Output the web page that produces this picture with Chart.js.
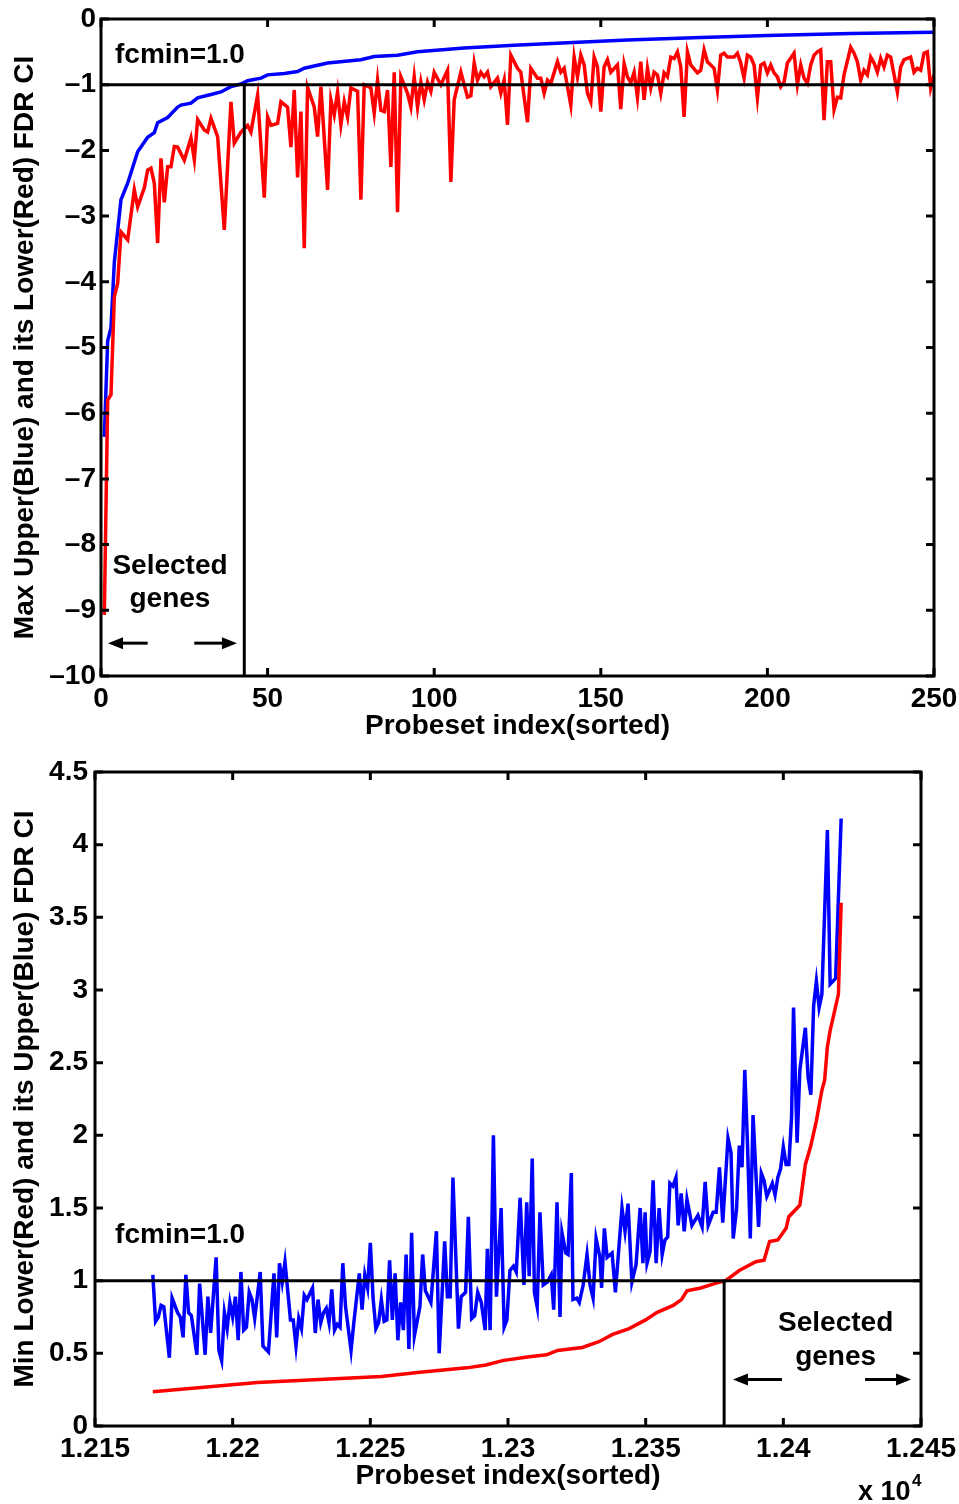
<!DOCTYPE html>
<html>
<head>
<meta charset="utf-8">
<script src="https://cdn.jsdelivr.net/npm/chart.js@4/dist/chart.umd.min.js"></script>
<style>
body{margin:0;background:#fff;}
#wrap{position:relative;width:959px;height:1504px;}
canvas{position:absolute;left:0;}
#topChart{top:0;}
#bottomChart{top:750px;}
</style>
</head>
<body>
<div id="wrap">
<canvas id="topChart" width="959" height="745"></canvas>
<canvas id="bottomChart" width="959" height="754"></canvas>
</div>
<script>
// top panel: max upper (blue) and its lower (red), points are [index, value]
let topBlue=[[1,-6.36],[2,-4.9],[3,-4.7],[4,-3.7],[6,-2.75],[8,-2.5],[11,-2.02],[14,-1.8],[16,-1.73],[17,-1.58],[20,-1.5],[23,-1.34],[24,-1.31],[27,-1.28],[29,-1.2],[33,-1.15],[36,-1.11],[39,-1.03],[42,-0.99],[44,-0.94],[48,-0.9],[50,-0.85],[55,-0.83],[59,-0.8],[61,-0.75],[68,-0.67],[78,-0.62],[82,-0.57],[89,-0.55],[95,-0.5],[109,-0.44],[124,-0.4],[140,-0.36],[158,-0.32],[180,-0.28],[200,-0.25],[225,-0.22],[250,-0.2]];

let topRed=[[1,-9.07],[2,-5.8],[3,-5.72],[4,-4.23],[5,-4.02],[6,-3.24],[8,-3.36],[10,-2.6],[11,-2.86],[13,-2.57],[14,-2.3],[15,-2.27],[16,-2.5],[17,-3.41],[18,-2.12],[19,-2.79],[20,-2.25],[21,-2.25],[22,-1.94],[23,-1.95],[25,-2.15],[27,-1.81],[28,-2.14],[29,-1.53],[31,-1.69],[32,-1.72],[33,-1.51],[35,-1.79],[37,-3.21],[39,-1.26],[40,-1.89],[42,-1.72],[44,-1.62],[45,-1.72],[47,-1.16],[49,-2.72],[50,-1.49],[51,-1.62],[53,-1.59],[54,-1.26],[56,-1.34],[57,-1.95],[58,-1.08],[59,-2.41],[60,-1.41],[61,-3.49],[62,-1.04],[64,-1.34],[65,-1.79],[66,-1.03],[68,-2.6],[69,-1.23],[70,-1.46],[71,-1.11],[72,-1.61],[73,-1.26],[74,-1.49],[75,-1.05],[77,-1.1],[78,-2.75],[79,-1.0],[81,-1.05],[82,-1.43],[83,-0.93],[84,-1.39],[85,-1.41],[86,-1.08],[87,-2.25],[88,-0.81],[89,-2.94],[90,-0.88],[92,-1.13],[93,-1.34],[94,-0.88],[95,-1.34],[96,-0.96],[97,-1.23],[98,-0.96],[99,-1.1],[100,-0.81],[102,-1.0],[104,-0.78],[105,-2.48],[106,-1.23],[108,-0.81],[110,-1.19],[111,-1.17],[112,-0.67],[113,-0.93],[114,-0.81],[115,-0.88],[116,-0.81],[117,-1.03],[119,-0.9],[120,-1.13],[121,-0.93],[122,-1.61],[123,-0.55],[125,-0.75],[126,-0.81],[128,-1.57],[129,-0.75],[131,-0.9],[132,-0.9],[133,-1.13],[134,-0.93],[135,-0.98],[137,-0.65],[138,-0.81],[139,-0.75],[141,-1.31],[142,-0.58],[143,-0.88],[144,-0.55],[145,-0.7],[146,-1.13],[147,-1.26],[148,-0.58],[149,-0.73],[150,-1.41],[151,-0.73],[152,-0.62],[153,-0.81],[155,-0.7],[156,-1.37],[157,-0.68],[158,-0.88],[159,-0.97],[160,-0.81],[161,-1.19],[162,-0.65],[163,-1.23],[164,-0.75],[165,-1.05],[166,-0.81],[167,-0.85],[168,-1.13],[169,-0.82],[170,-0.88],[171,-0.58],[172,-0.6],[173,-0.5],[174,-0.73],[175,-1.49],[176,-0.5],[177,-0.7],[179,-0.82],[180,-0.78],[181,-0.47],[182,-0.65],[184,-0.75],[185,-1.08],[186,-0.55],[187,-0.52],[188,-0.58],[190,-0.58],[191,-0.52],[192,-0.67],[193,-0.9],[194,-0.55],[195,-0.58],[196,-0.7],[197,-1.2],[198,-0.7],[199,-0.67],[200,-0.82],[201,-0.7],[202,-0.82],[203,-0.88],[204,-1.03],[205,-0.96],[206,-0.67],[208,-0.52],[209,-1.0],[210,-0.7],[211,-0.9],[212,-0.98],[213,-0.7],[214,-0.55],[215,-0.5],[216,-0.47],[217,-1.54],[218,-0.65],[219,-0.65],[220,-1.38],[221,-1.19],[222,-1.2],[223,-0.85],[225,-0.43],[226,-0.52],[227,-0.65],[228,-0.93],[229,-0.78],[230,-0.85],[231,-0.58],[232,-0.67],[233,-0.81],[234,-0.6],[235,-0.73],[236,-0.55],[237,-0.58],[239,-1.11],[240,-0.73],[241,-0.62],[243,-0.58],[244,-0.81],[245,-0.75],[246,-0.78],[247,-0.52],[248,-0.5],[249,-1.05],[250,-0.85]];

let topThreshold=-1;
let topCutoff=43;
let topXRange=[0,250];
let topYRange=[-10,0];

// bottom panel: min lower (red) and its upper (blue)
let bottomBlue=[[12171,1.04],[12172,0.72],[12173,0.75],[12174,0.83],[12175,0.82],[12177,0.47],[12178,0.88],[12180,0.78],[12181,0.75],[12182,0.61],[12183,1.04],[12184,0.78],[12185,0.76],[12187,0.49],[12188,0.98],[12190,0.49],[12191,0.89],[12192,0.64],[12194,1.16],[12195,0.52],[12196,0.45],[12197,0.78],[12198,0.67],[12199,0.85],[12200,0.75],[12201,0.89],[12202,0.59],[12203,1.06],[12204,0.66],[12205,0.68],[12206,0.92],[12207,0.87],[12208,0.74],[12210,1.06],[12211,0.55],[12213,0.51],[12215,1.05],[12216,0.61],[12217,1.12],[12218,0.99],[12219,1.13],[12221,0.73],[12222,0.73],[12223,0.55],[12224,0.74],[12225,0.67],[12226,0.9],[12227,0.87],[12229,0.95],[12230,0.64],[12231,0.87],[12232,0.71],[12233,0.78],[12234,0.81],[12235,0.71],[12236,0.94],[12237,0.66],[12238,0.7],[12239,0.68],[12240,1.12],[12241,0.82],[12243,0.52],[12244,0.71],[12246,1.05],[12247,0.8],[12248,1.04],[12249,0.95],[12250,1.26],[12251,0.88],[12252,0.67],[12253,0.71],[12254,0.87],[12255,0.72],[12256,0.73],[12257,1.14],[12258,0.73],[12259,1.05],[12260,0.59],[12261,0.85],[12262,0.66],[12263,1.18],[12264,0.53],[12265,1.33],[12266,0.62],[12268,0.82],[12269,1.18],[12270,0.93],[12272,0.85],[12274,1.34],[12275,0.5],[12277,1.27],[12278,0.89],[12279,0.89],[12280,1.71],[12282,0.67],[12283,0.89],[12284.6,0.92],[12285.6,1.44],[12286.8,0.74],[12287.9,0.76],[12289,0.92],[12290.3,0.85],[12291.7,0.66],[12292.5,1.22],[12293.5,0.66],[12294.7,2.0],[12295.8,0.89],[12297.5,1.5],[12298.6,0.68],[12299.6,0.73],[12300.7,1.07],[12302,1.1],[12303,1.06],[12304.4,1.57],[12305.8,0.97],[12306.8,1.54],[12307.7,1.03],[12308.8,1.84],[12309.6,0.92],[12310.6,0.82],[12311.6,1.47],[12312.8,0.97],[12314.3,0.99],[12315.7,1.04],[12316.6,0.8],[12317.8,1.54],[12318.9,0.75],[12319.6,1.33],[12321,1.19],[12321.8,1.18],[12323,1.74],[12323.6,0.87],[12325,0.88],[12325.9,0.85],[12327.3,0.97],[12328.7,1.18],[12329.8,0.97],[12330.9,0.88],[12332,1.29],[12333.4,1.16],[12334,0.95],[12335,1.36],[12336,1.16],[12337.8,1.19],[12339,0.92],[12340,1.16],[12341.4,1.5],[12342.5,1.34],[12343.6,1.53],[12345,0.99],[12346.5,1.11],[12348,1.5],[12349,1.12],[12349.8,1.47],[12350.5,1.12],[12351.6,1.2],[12352.7,1.69],[12353.8,1.12],[12354.9,1.5],[12356,1.18],[12357,1.28],[12358,1.3],[12358.8,1.67],[12359.9,1.65],[12361,1.71],[12361.8,1.38],[12362.9,1.6],[12364,1.34],[12365,1.56],[12366.8,1.38],[12369,1.45],[12370.5,1.37],[12371.6,1.68],[12372.7,1.38],[12374.5,1.47],[12375.6,1.47],[12376.8,1.78],[12378,1.4],[12379.9,1.98],[12381,1.88],[12381.8,1.29],[12383,1.49],[12384,1.93],[12385,1.78],[12386,2.45],[12387,1.93],[12388,1.29],[12389,2.14],[12391,1.37],[12392,1.74],[12393,1.69],[12394,1.58],[12396,1.67],[12397,1.59],[12398,1.71],[12399,1.77],[12400,1.92],[12401,1.8],[12402,1.8],[12403,2.13],[12403.7,2.88],[12405,1.95],[12406,2.45],[12408,2.74],[12409,2.4],[12410,2.28],[12411,2.89],[12412,3.06],[12413,2.88],[12414,2.97],[12416,4.1],[12417,3.04],[12419,3.08],[12421,4.18]];

let bottomRed=[[12171,0.236],[12209,0.3],[12254,0.34],[12268,0.37],[12285,0.4],[12292,0.42],[12298,0.45],[12307,0.475],[12314,0.49],[12318,0.52],[12327,0.54],[12333,0.58],[12338,0.63],[12344,0.67],[12350,0.73],[12354,0.78],[12360,0.83],[12363,0.87],[12365,0.93],[12370,0.95],[12375,0.98],[12379,1.0],[12384,1.07],[12390,1.13],[12393,1.14],[12395,1.27],[12398,1.28],[12401,1.36],[12402,1.44],[12406,1.52],[12408,1.8],[12410,1.93],[12412,2.1],[12414,2.31],[12415,2.38],[12416,2.61],[12417,2.72],[12420,2.97],[12421,3.6]];

let bottomThreshold=1;
let bottomCutoff=12378.5;
let bottomXRange=[12150,12450];
let bottomYRange=[0,4.5];

const FONT="'Liberation Sans', Arial, Helvetica, sans-serif";
const BIG={family:FONT,size:28,weight:"bold"};

function pts(arr){
return arr.map(p=>({x:p[0],y:p[1]}));
}

function lineSet(data,color,w){
return {data,borderColor:color,borderWidth:w,pointRadius:0,tension:0,fill:false};
}

// matlab style box with inward ticks + text annotations
function boxPlugin(notes){
return {
id:"box",
afterDraw(chart){
let {ctx,chartArea:a,scales:{x,y}}=chart;
ctx.save();
ctx.strokeStyle="#000";
ctx.lineWidth=3;
ctx.beginPath();
x.ticks.forEach(t=>{
let px=x.getPixelForValue(t.value);
ctx.moveTo(px,a.bottom);ctx.lineTo(px,a.bottom-8);
ctx.moveTo(px,a.top);ctx.lineTo(px,a.top+8);
});
y.ticks.forEach(t=>{
let py=y.getPixelForValue(t.value);
ctx.moveTo(a.left,py);ctx.lineTo(a.left+8,py);
ctx.moveTo(a.right,py);ctx.lineTo(a.right-8,py);
});
ctx.stroke();
ctx.strokeRect(a.left,a.top,a.right-a.left,a.bottom-a.top);

ctx.fillStyle="#000";
ctx.font="bold 28px "+FONT;
ctx.textBaseline="middle";
notes.texts.forEach(n=>{
ctx.textAlign=n.align;
ctx.fillText(n.text,x.getPixelForValue(n.x),y.getPixelForValue(n.y));
});
notes.arrows.forEach(ar=>{
let x0=x.getPixelForValue(ar.from),x1=x.getPixelForValue(ar.to),py=y.getPixelForValue(ar.y);
let dir=x1>x0?1:-1;
ctx.lineWidth=3;
ctx.beginPath();ctx.moveTo(x0,py);ctx.lineTo(x1-dir*12,py);ctx.stroke();
ctx.beginPath();ctx.moveTo(x1,py);ctx.lineTo(x1-dir*15,py-6);ctx.lineTo(x1-dir*15,py+6);ctx.closePath();ctx.fill();
});
if(notes.exponent){
ctx.textAlign="left";
ctx.textBaseline="alphabetic";
ctx.font="bold 27px "+FONT;
ctx.fillText("x 10",a.right-63,a.bottom+74);
ctx.font="bold 17px "+FONT;
ctx.fillText("4",a.right-9,a.bottom+60);
}
ctx.restore();
}
};
}

function makeChart(id,cfg){
return new Chart(document.getElementById(id),{
type:"line",
data:{datasets:[
lineSet([{x:cfg.xr[0],y:cfg.thr},{x:cfg.xr[1],y:cfg.thr}],"#000",3),
lineSet([{x:cfg.cut,y:cfg.thr},{x:cfg.cut,y:cfg.cutEnd}],"#000",3),
lineSet(pts(cfg.red),"#ff0000",3.5),
lineSet(pts(cfg.blue),"#0000ff",3.5)
]},
options:{
responsive:false,
animation:false,
devicePixelRatio:1,
layout:{padding:cfg.pad},
plugins:{legend:{display:false},tooltip:{enabled:false}},
scales:{
x:{
type:"linear",min:cfg.xr[0],max:cfg.xr[1],
grid:{display:false,drawTicks:false},
border:{display:false},
ticks:{stepSize:50,font:BIG,color:"#000",padding:cfg.xPad,maxRotation:0,callback:cfg.xFmt},
title:{display:true,text:"Probeset index(sorted)",font:BIG,color:"#000",padding:{top:0,bottom:cfg.xTitlePad}},
afterFit(s){s.height=cfg.xH;s.paddingLeft=0;s.paddingRight=0;}
},
y:{
type:"linear",min:cfg.yr[0],max:cfg.yr[1],
grid:{display:false,drawTicks:false},
border:{display:false},
ticks:{stepSize:cfg.yStep,font:BIG,color:"#000",padding:cfg.yPad,callback:v=>String(v).replace("-","\u2013")},
title:{display:true,text:cfg.yTitle,font:BIG,color:"#000",padding:{top:8,bottom:0}},
afterFit(s){s.width=cfg.yW;s.paddingTop=0;s.paddingBottom=0;}
}
}
},
plugins:[boxPlugin(cfg.notes)]
});
}

makeChart("topChart",{
xr:topXRange,yr:topYRange,thr:topThreshold,cut:topCutoff,cutEnd:topYRange[0],
red:topRed,blue:topBlue,
pad:{left:0,right:25,top:19,bottom:0},
xH:69,yW:101,xPad:6,yPad:5,xTitlePad:2,yStep:1,
xFmt:v=>String(v),
yTitle:"Max Upper(Blue) and its Lower(Red) FDR CI",
notes:{
texts:[
{text:"fcmin=1.0",x:4.2,y:-0.55,align:"left"},
{text:"Selected",x:20.7,y:-8.33,align:"center"},
{text:"genes",x:20.7,y:-8.83,align:"center"}
],
arrows:[{from:14,to:2.1,y:-9.5},{from:28,to:40.8,y:-9.5}]
}
});

makeChart("bottomChart",{
xr:bottomXRange,yr:bottomYRange,thr:bottomThreshold,cut:bottomCutoff,cutEnd:bottomYRange[0],
red:bottomRed,blue:bottomBlue,
pad:{left:0,right:38,top:22,bottom:0},
xH:78,yW:95,xPad:6,yPad:7,xTitlePad:11,yStep:0.5,
xFmt:v=>String(Number((v/10000).toFixed(4))),
yTitle:"Min Lower(Red) and its Upper(Blue) FDR CI",
notes:{
texts:[
{text:"fcmin=1.0",x:12157.3,y:1.31,align:"left"},
{text:"Selected",x:12419,y:0.71,align:"center"},
{text:"genes",x:12419,y:0.475,align:"center"}
],
arrows:[{from:12399.5,to:12381.7,y:0.32},{from:12429.7,to:12446.4,y:0.32}],
exponent:true
}
});
</script>
</body>
</html>
